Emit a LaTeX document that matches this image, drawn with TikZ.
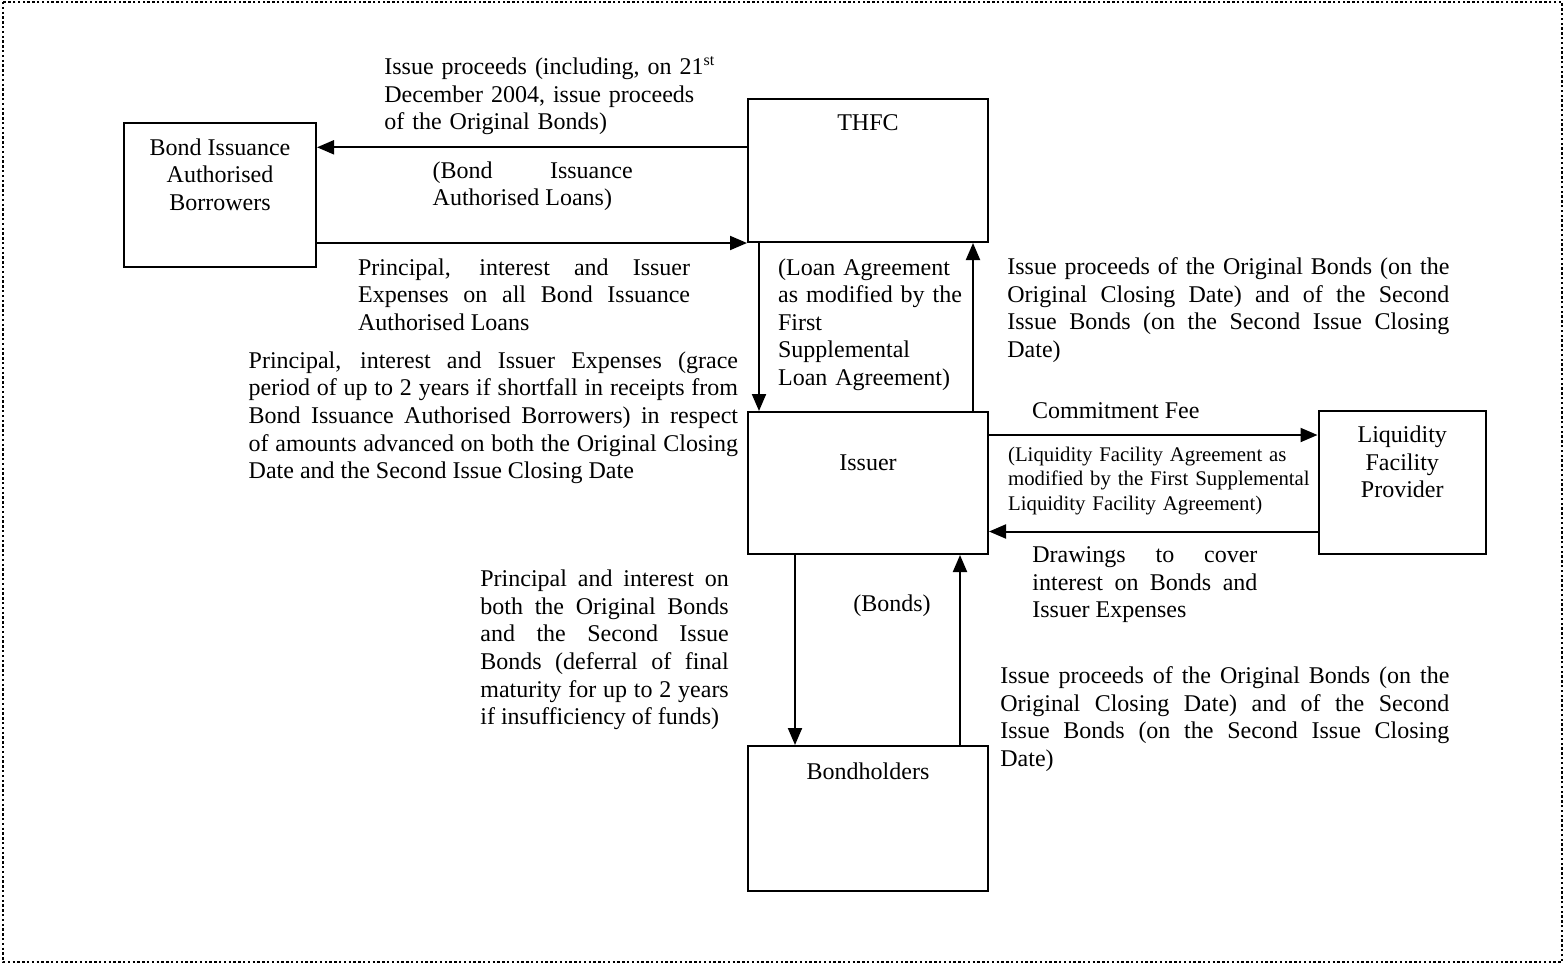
\documentclass[tikz,border=0pt]{standalone}
\usepackage{fontspec}
\setmainfont{Liberation Serif}
\usetikzlibrary{arrows.meta}

\begin{document}
\begin{tikzpicture}[
    x=0.5pt, y=-0.5pt,
    font=\fontsize{12}{13.8}\selectfont,
    box/.style={draw,line width=1pt,inner sep=0pt},
    arr/.style={line width=1pt,-{Triangle[length=8.5pt,width=7pt]}},
    txt/.style={anchor=base west,inner sep=0pt,align=justify},
    lft/.style={anchor=base west,inner sep=0pt,align=left}
  ]
    \useasboundingbox (0,0) rectangle (1564,964);
    \draw[line width=1pt,dash pattern=on 1.2pt off 1.2pt] (3,2) rectangle (1562,962);

    \node[box,minimum width=96pt,minimum height=72pt,
      label={[anchor=base,yshift=-44.1pt,align=center]north:Bond Issuance\\Authorised\\Borrowers}] (biab) at (220,195) {};
    \node[box,minimum width=120pt,minimum height=71.5pt,
      label={[anchor=base,yshift=-16pt]north:THFC}] (thfc) at (868,170.5) {};
    \node[box,minimum width=120pt,minimum height=71pt,
      label={[anchor=base,yshift=-29.75pt]north:Issuer}] (issuer) at (868,483) {};
    \node[box,minimum width=83.75pt,minimum height=71.5pt,
      label={[anchor=base,yshift=-43.8pt,align=center]north:Liquidity\\Facility\\Provider}] (lfp) at (1402.25,482.5) {};
    \node[box,minimum width=120pt,minimum height=72.5pt,
      label={[anchor=base,yshift=-17pt]north:Bondholders}] (bondh) at (868,818.5) {};

    \node[lft,text width=180pt] (procA) at (384,74.7) {Issue proceeds (including, on 21\textsuperscript{st}\\December 2004, issue proceeds\\of the Original Bonds)};
    \node[txt,text width=100pt] (bial) at (432.3,178.3) {(Bond Issuance\linebreak Authorised Loans)};
    \node[txt,text width=166pt] (piA) at (357.7,275) {Principal, interest and Issuer\linebreak Expenses on all Bond Issuance\linebreak Authorised Loans};
    \node[txt,text width=244.7pt] (piB) at (248.3,368.3) {Principal, interest and Issuer Expenses (grace\linebreak period of up to 2 years if shortfall in receipts from\linebreak Bond Issuance Authorised Borrowers) in respect\linebreak of amounts advanced on both the Original Closing\linebreak Date and the Second Issue Closing Date};
    \node[lft,text width=92pt] (loan) at (777.7,275) {(Loan Agreement\\as modified by the\\First\\Supplemental\\Loan Agreement)};
    \node[txt,text width=221pt] (procB) at (1007,274.5) {Issue proceeds of the Original Bonds (on the\linebreak Original Closing Date) and of the Second\linebreak Issue Bonds (on the Second Issue Closing\linebreak Date)};
    \node[lft] (fee) at (1031.7,418.3) {Commitment Fee};
    \node[lft,text width=160pt,font=\fontsize{10.4}{12.4}\selectfont] (lfa) at (1007.7,461) {(Liquidity Facility Agreement as\\modified by the First Supplemental\\Liquidity Facility Agreement)};
    \node[txt,text width=112.5pt] (drw) at (1032,562.5) {Drawings to cover\linebreak interest on Bonds and\linebreak Issuer Expenses};
    \node[txt,text width=124.2pt] (piC) at (480,586.7) {Principal and interest on\linebreak both the Original Bonds\linebreak and the Second Issue\linebreak Bonds (deferral of final\linebreak maturity for up to 2 years\linebreak if insufficiency of funds)};
    \node[anchor=base,inner sep=0pt] (bonds) at (892,611.7) {(Bonds)};
    \node[txt,text width=224.5pt] (procC) at (1000,683.5) {Issue proceeds of the Original Bonds (on the\linebreak Original Closing Date) and of the Second\linebreak Issue Bonds (on the Second Issue Closing\linebreak Date)};

    \draw[arr] ([yshift=11.6pt]thfc.west) coordinate (a1) -- (a1 -| biab.east);
    \draw[arr] (thfc.south west -| biab.east) -- (thfc.south west);
    \draw[arr] ([xshift=6pt]thfc.south west) coordinate (a3) -- (a3 |- issuer.north);
    \draw[arr] ([xshift=-8pt]issuer.north east) coordinate (a4) -- (a4 |- thfc.south);
    \draw[arr] ([yshift=24pt]issuer.east) coordinate (a5) -- (a5 -| lfp.west);
    \draw[arr] ([yshift=-24.5pt]lfp.west) coordinate (a6) -- (a6 -| issuer.east);
    \draw[arr] ([xshift=24pt]issuer.south west) coordinate (a7) -- (a7 |- bondh.north);
    \draw[arr] ([xshift=-14.5pt]bondh.north east) coordinate (a8) -- (a8 |- issuer.south);
  \end{tikzpicture}
\end{document}
